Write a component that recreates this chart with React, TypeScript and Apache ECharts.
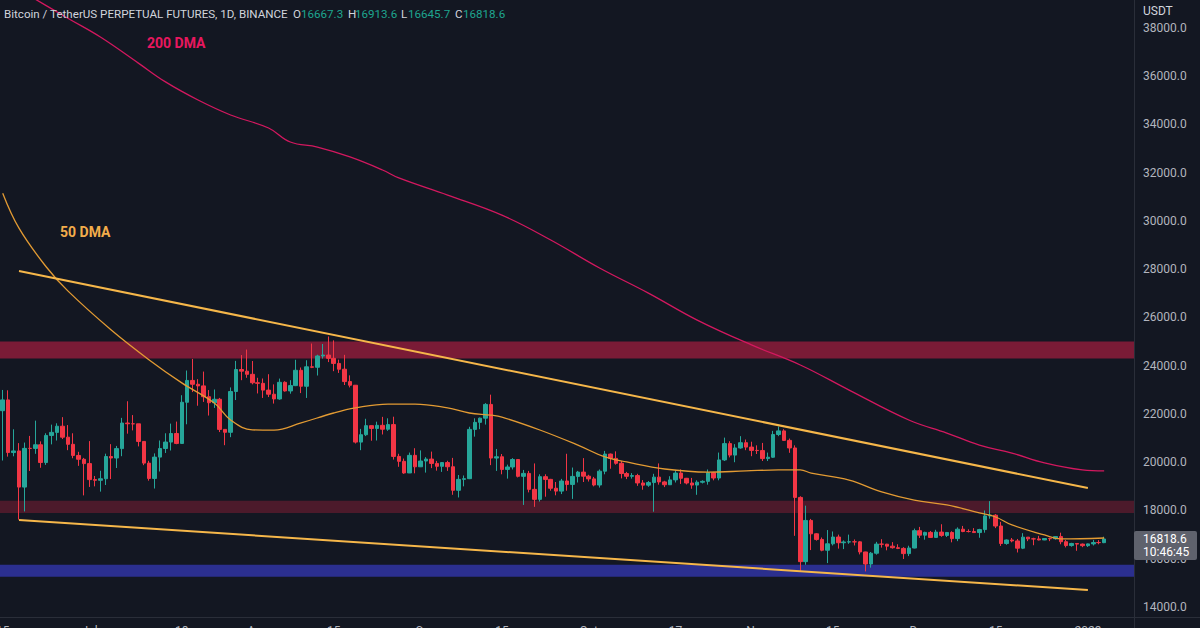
import React, { useEffect, useRef } from "react";
import * as echarts from "echarts";

// ---- Data (BTCUSDT perpetual, 1D, 2022-06-15 .. 2023-01-04) ----
const startDate = "2022-06-15";
const padBars = 5;

const opens = [
  22136,22583,20401,20468,18970,20574,20573,20723,19987,21110,21237,21492,21038,20742,20281,20123,
  19942,19279,19252,19315,20236,20175,20564,21624,21594,21591,20862,19963,19328,20212,20569,20836,21190,20779,22485,23389,23231,23164,22714,22465,22609,21361,21240,22930,23843,23774,23643,
  23293,23269,22988,22818,22622,23312,22954,23175,23810,23149,23954,23935,24403,24441,24305,24094,23854,23342,23191,20834,21140,21516,21400,21529,21368,21559,20241,20037,19555,20285,19811,
  20050,20131,19951,19831,19986,19812,18837,19290,19319,21361,21652,21826,22396,20173,20226,19701,19803,20113,19416,19537,18875,18461,19401,19289,18921,18803,19222,19079,19412,19591,
  19422,19310,19056,19629,20337,20158,19956,19531,19417,19446,19141,19051,19157,19382,19185,19067,19268,19550,19334,19139,19053,19172,19208,19567,19345,20095,20771,20295,20591,20809,20627,
  20491,20483,20151,20207,21148,21299,20905,20591,18541,15880,17587,17034,16800,16353,16619,16900,16663,16695,16702,16700,16281,15782,16229,16607,16603,16522,16458,16428,16213,16444,
  17164,16978,17092,16885,17105,16967,17089,16836,17224,17128,17127,17085,17209,17775,17804,17356,16632,16777,16738,16438,16895,16824,16821,16779,16837,16830,16919,16706,16547,16633,16607,
  16542,16616,16672,16667.3,
];
const closes = [
  22583,20401,20468,18970,20574,20573,20723,19987,21110,21237,21492,21038,20742,20281,20123,19942,
  19279,19252,19315,20236,20175,20564,21624,21594,21591,20862,19963,19328,20212,20569,20836,21190,20779,22485,23389,23231,23164,22714,22465,22609,21361,21240,22930,23843,23774,23643,23293,
  23269,22988,22818,22622,23312,22954,23175,23810,23149,23954,23935,24403,24441,24305,24094,23854,23342,23191,20834,21140,21516,21400,21529,21368,21559,20241,20037,19555,20285,19811,20050,
  20131,19951,19831,19986,19812,18837,19290,19319,21361,21652,21826,22396,20173,20226,19701,19803,20113,19416,19537,18875,18461,19401,19289,18921,18803,19222,19079,19412,19591,19422,
  19310,19056,19629,20337,20158,19956,19531,19417,19446,19141,19051,19157,19382,19185,19067,19268,19550,19334,19139,19053,19172,19208,19567,19345,20095,20771,20295,20591,20809,20627,20491,
  20483,20151,20207,21148,21299,20905,20591,18541,15880,17587,17034,16800,16353,16619,16900,16663,16695,16702,16700,16281,15782,16229,16607,16603,16522,16458,16428,16213,16444,17164,
  16978,17092,16885,17105,16967,17089,16836,17224,17128,17127,17085,17209,17775,17804,17356,16632,16777,16738,16438,16895,16824,16821,16779,16837,16830,16919,16706,16547,16633,16607,16542,
  16616,16672,16667,16818.6,
];
const lows = [
  20070,20232,20246,17622,17960,19637,20348,19770,19890,20740,20900,20960,20500,20164,19850,18626,
  18975,19000,18781,19055,19304,19761,20250,21183,21319,20655,19878,19235,18910,19616,20383,20486,20746,20760,21572,22907,22341,22500,21934,22250,21250,20706,21038,22577,23400,23500,23227,
  22850,22664,22700,22430,22588,22927,22840,23154,22865,22664,23900,23593,24295,24150,23773,23700,23200,23100,20776,20500,21083,20890,20900,21150,21300,20110,19810,19520,19550,19540,19800,
  19570,19755,19650,19600,19640,18650,18540,19000,19300,21060,21370,21560,19880,19640,19500,19320,19700,19370,18230,18750,18150,18370,18570,18820,18630,18680,18820,18480,19160,19180,
  19200,19000,18950,19500,19730,19900,19330,19300,19320,19020,18860,18980,17950,19070,18970,19060,19160,19100,19080,18900,18650,19120,19070,19250,19250,20050,20200,20000,20560,20500,20250,
  20340,20050,20050,20180,21080,20880,20390,16950,15500,15750,16360,16750,16310,15820,16550,16420,16400,16620,16550,16180,15476,15630,16170,16460,16350,16420,16400,15990,16110,16430,
  16860,16790,16870,16880,16910,16900,16680,16730,17100,17090,17070,16870,17080,17660,17270,16530,16580,16680,16260,16400,16730,16560,16760,16770,16730,16790,16600,16470,16500,16330,16480,
  16490,16550,16600,16645.7,
];
const highs = [
  22995,22980,21365,20792,20815,21090,21723,20865,21200,21558,21614,21868,21540,21200,20432,20179,
  20876,19430,19647,20354,20750,20675,21838,22527,21954,21591,20862,20059,20366,20900,21200,21600,21684,22777,23800,24280,23442,23756,22990,23014,22666,21361,23100,24200,24442,24668,24194,
  23500,23470,23647,23225,23466,23354,23400,24245,23926,24226,24918,24454,24900,25211,25050,24250,24450,23600,23200,21382,21800,21520,21680,21880,21820,21886,20350,20152,20400,20580,20490,
  20210,20440,20055,20000,20060,20180,19470,19450,21470,21820,21850,22450,22800,20550,20340,19900,20170,20100,19680,19640,19950,19500,19500,19310,19180,19310,20350,19780,19640,20170,
  19480,19390,19700,20470,20360,20450,20050,19600,19550,19520,19260,19220,19520,19950,19230,19420,19670,19700,19350,19350,19250,19250,19700,19600,20400,21020,20870,20750,21080,20940,20850,
  20700,20800,20400,21300,21480,21370,20980,20700,18590,18200,17650,17060,16880,17190,17130,17000,16760,17000,16800,16730,16290,16280,16700,16810,16620,16690,16600,16480,16540,17250,
  17320,17120,17150,17200,17430,17110,17140,17300,17360,17220,17270,17240,18000,18387,17850,17530,16800,16860,16820,17060,16900,16870,16950,16860,16870,16930,17080,16780,16660,16650,16630,
  16630,16780,16770,16913.6,
];

// Moving averages: [bar index, price]
const dma50 = [
  [0, 31150],[3, 29700],[8, 28100],[12, 27100],[20, 25480],[27, 24240],[33, 23290],[39, 22450],
  [42, 21750],[46, 21340],[50, 21330],[55, 21630],[61, 22040],[65, 22250],[71, 22410],[76, 22410],
  [82, 22250],[86, 22040],[90, 21950],[92, 21870],[99, 21335],[106, 20710],[111, 20220],[115, 20010],
  [122, 19720],[130, 19590],[137, 19640],[143, 19680],[147, 19680],[149, 19550],[156, 19260],
  [162, 18770],[168, 18430],[174, 18230],[180, 17900],[183, 17730],[186, 17400],[192, 16985],
  [195, 16820],[203, 16860],
];
const dma200 = [
  [0, 39980],[12, 38400],[18, 37620],[25, 36540],[30, 35760],[36, 35010],[42, 34390],[49, 33850],
  [53, 33270],[58, 33060],[64, 32650],[70, 32110],[73, 31780],[82, 31070],[92, 30240],[101, 29210],
  [110, 28050],[119, 27010],[128, 25890],[138, 24860],[147, 24030],[156, 22990],[167, 21750],
  [174, 21210],[180, 20710],[186, 20380],[192, 19970],[199, 19680],[203, 19640],
];

// Trendlines: [bar index, price] endpoints
const upperTrend = [[3, 27925], [200, 18930]];
const lowerTrend = [[3, 17605], [200, 14705]];

// Horizontal zones [low, high]
const resistanceZone = [24300, 25000];
const supportZone = [17900, 18400];
const lowZone = [15250, 15750];

const priceTicks = [14000, 16000, 18000, 20000, 22000, 24000, 26000, 28000, 30000, 32000, 34000, 36000, 38000];
const timeLabels: Record<number, string> = {
  0: "15", 16: "Jul", 33: "18", 47: "Aug", 61: "15", 78: "Sep", 92: "15",
  108: "Oct", 124: "17", 139: "Nov", 153: "15", 169: "Dec", 183: "15", 200: "2023",
};

const headerTitle = "Bitcoin / TetherUS PERPETUAL FUTURES, 1D, BINANCE";
const ohlcKeys = ["O", "H", "L", "C"];
const ohlcValues = ["16667.3", "16913.6", "16645.7", "16818.6"];
const lastPrice = "16818.6";
const countdown = "10:46:45";

function buildDates(n: number): string[] {
  const out: string[] = [];
  const d = new Date(startDate + "T00:00:00Z");
  for (let i = 0; i < n; i++) {
    out.push(d.toISOString().slice(0, 10));
    d.setUTCDate(d.getUTCDate() + 1);
  }
  return out;
}

export default function App() {
  const ref = useRef<HTMLDivElement>(null);
  useEffect(() => {
    if (!ref.current) return;
    const chart = echarts.init(ref.current, undefined, { renderer: "svg" });
    const cats = buildDates(opens.length + padBars);
    const candles = opens.map((o, i) => [o, closes[i], lows[i], highs[i]]);
    const FONT = "Roboto, 'Noto Sans', sans-serif";
    const AX = "#2a2e39";
    const TXT = "#b2b5be";
    const GREEN = "#26a69a";
    const RED = "#f23645";

    const keyX = [293, 348, 401, 455];
    const valX = [301, 355, 408, 463];
    const headerItems: any[] = [
      { type: "text", z: 60, x: 4, y: 14, style: { text: headerTitle, fill: "#d1d4dc", font: `11.6px ${FONT}`, verticalAlign: "middle" } },
    ];
    ohlcKeys.forEach((k, i) => {
      headerItems.push({ type: "text", z: 60, x: keyX[i], y: 14, style: { text: k, fill: "#d1d4dc", font: `11.6px ${FONT}`, verticalAlign: "middle" } });
      headerItems.push({ type: "text", z: 60, x: valX[i], y: 14, style: { text: ohlcValues[i], fill: "#1ea58f", font: `11.6px ${FONT}`, verticalAlign: "middle" } });
    });

    chart.setOption({
      animation: false,
      backgroundColor: "#131722",
      grid: { left: 0, right: 66, top: 0, bottom: 11, containLabel: false, outerBoundsMode: "none" },
      xAxis: {
        type: "category",
        data: cats,
        boundaryGap: true,
        axisLine: { show: true, lineStyle: { color: AX } },
        axisTick: { show: false },
        splitLine: { show: false },
        axisLabel: {
          interval: (i: number) => timeLabels[i] !== undefined,
          formatter: (_v: string, i: number) => timeLabels[i] ?? "",
          color: TXT,
          fontSize: 12,
          fontFamily: FONT,
          margin: 8,
        },
      },
      yAxis: {
        type: "value",
        position: "right",
        min: 13586,
        max: 39155,
        axisLine: { show: true, lineStyle: { color: AX } },
        axisTick: { show: false },
        splitLine: { show: false },
        axisLabel: {
          customValues: priceTicks,
          formatter: (v: number) => v.toFixed(1),
          color: TXT,
          fontSize: 12,
          fontFamily: FONT,
          margin: 9,
        },
      },
      series: [
        {
          type: "candlestick",
          data: candles,
          barWidth: 4,
          z: 3,
          itemStyle: { color: GREEN, color0: RED, borderColor: GREEN, borderColor0: RED, borderWidth: 1 },
          markArea: {
            silent: true,
            z: 1,
            data: [
              [{ yAxis: resistanceZone[0], itemStyle: { color: "#7a1b36" } }, { yAxis: resistanceZone[1] }],
              [{ yAxis: supportZone[0], itemStyle: { color: "#4c1a2b" } }, { yAxis: supportZone[1] }],
              [{ yAxis: lowZone[0], itemStyle: { color: "#2b2f8f" } }, { yAxis: lowZone[1] }],
            ],
          },
          markLine: {
            silent: true,
            symbol: ["none", "none"],
            label: { show: false },
            lineStyle: { color: "#f6b74a", width: 2, type: "solid" },
            data: [
              [{ coord: [cats[upperTrend[0][0]], upperTrend[0][1]] }, { coord: [cats[upperTrend[1][0]], upperTrend[1][1]] }],
              [{ coord: [cats[lowerTrend[0][0]], lowerTrend[0][1]] }, { coord: [cats[lowerTrend[1][0]], lowerTrend[1][1]] }],
            ],
          },
        },
        {
          type: "line",
          data: dma50,
          smooth: 0.4,
          symbol: "none",
          z: 4,
          lineStyle: { color: "#e39b33", width: 1.3 },
        },
        {
          type: "line",
          data: dma200,
          smooth: 0.4,
          symbol: "none",
          z: 4,
          lineStyle: { color: "#d3185f", width: 1.3 },
        },
      ],
      graphic: [
        { type: "line", z: 50, shape: { x1: 0, y1: 617.5, x2: 1200, y2: 617.5 }, style: { stroke: AX, lineWidth: 1 } },
        { type: "line", z: 50, shape: { x1: 1134.5, y1: 0, x2: 1134.5, y2: 628 }, style: { stroke: AX, lineWidth: 1 } },
        ...headerItems,
        { type: "text", z: 60, x: 147, y: 43, style: { text: "200 DMA", fill: "#e8175f", font: `bold 14px ${FONT}`, verticalAlign: "middle" } },
        { type: "text", z: 60, x: 60, y: 232, style: { text: "50 DMA", fill: "#f2ad4b", font: `bold 14px ${FONT}`, verticalAlign: "middle" } },
        { type: "text", z: 60, x: 1143, y: 11, style: { text: "USDT", fill: "#d1d4dc", font: `12px ${FONT}`, verticalAlign: "middle" } },
        { type: "rect", z: 60, shape: { x: 1134, y: 531, width: 63, height: 29, r: 2 }, style: { fill: "#5f626d" } },
        { type: "text", z: 61, x: 1143, y: 539, style: { text: lastPrice, fill: "#ffffff", font: `12px ${FONT}`, verticalAlign: "middle" } },
        { type: "text", z: 61, x: 1143, y: 552, style: { text: countdown, fill: "#ffffff", font: `12px ${FONT}`, verticalAlign: "middle" } },
      ],
    });
    return () => chart.dispose();
  }, []);
  return <div ref={ref} style={{ position: "fixed", left: 0, top: 0, width: 1200, height: 628 }} />;
}
